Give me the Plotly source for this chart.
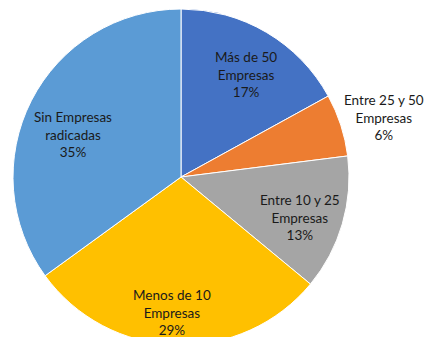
import math
import plotly.graph_objects as go

# Distribución de municipios según cantidad de empresas radicadas
categorias = [
    "Más de 50<br>Empresas",
    "Entre 25 y 50<br>Empresas",
    "Entre 10 y 25<br>Empresas",
    "Menos de 10<br>Empresas",
    "Sin Empresas<br>radicadas",
]
porcentajes = [17, 6, 13, 29, 35]
colores = ["#4472C4", "#ED7D31", "#A5A5A5", "#FFC000", "#5B9BD5"]
# distancia de cada etiqueta al centro (fracción del radio) y giro respecto a la bisectriz (grados)
dist_etiqueta = [0.72, 1.26, 0.75, 0.81, 0.69]
giro_etiqueta = [1.9, 1.8, 2.7, 2.0, -5.7]

W, H = 424, 346
cx, cy, r = 181, 177, 168  # centro y radio del pastel en píxeles

fig = go.Figure(
    go.Pie(
        labels=categorias,
        values=porcentajes,
        sort=False,
        direction="clockwise",
        rotation=0,
        marker=dict(colors=colores, line=dict(color="white", width=1)),
        textinfo="none",
        showlegend=False,
        hoverinfo="label+percent",
        domain=dict(
            x=[(cx - r) / W, (cx + r) / W],
            y=[(H - cy - r) / H, (H - cy + r) / H],
        ),
    )
)

# etiquetas cerca de la bisectriz de cada sector (sentido horario desde arriba)
total = sum(porcentajes)
acum = 0
for cat, val, f, g in zip(categorias, porcentajes, dist_etiqueta, giro_etiqueta):
    ang = 2 * math.pi * (acum + val / 2) / total + math.radians(g)
    acum += val
    px = cx + f * r * math.sin(ang)
    py = cy - f * r * math.cos(ang)
    fig.add_annotation(
        x=px / W,
        y=1 - py / H,
        xref="paper",
        yref="paper",
        text=f"{cat}<br>{round(100 * val / total)}%",
        showarrow=False,
        align="center",
        xanchor="center",
        yanchor="middle",
        font=dict(family="Lato, Open Sans, sans-serif", size=13.5, color="#1a1a1a"),
    )

fig.update_layout(
    width=W,
    height=H,
    margin=dict(l=0, r=0, t=0, b=0),
    paper_bgcolor="white",
    plot_bgcolor="white",
)

fig.write_html(
    "out.html",
    post_script="document.documentElement.style.overflow='hidden';document.body.style.overflow='hidden';",
)
